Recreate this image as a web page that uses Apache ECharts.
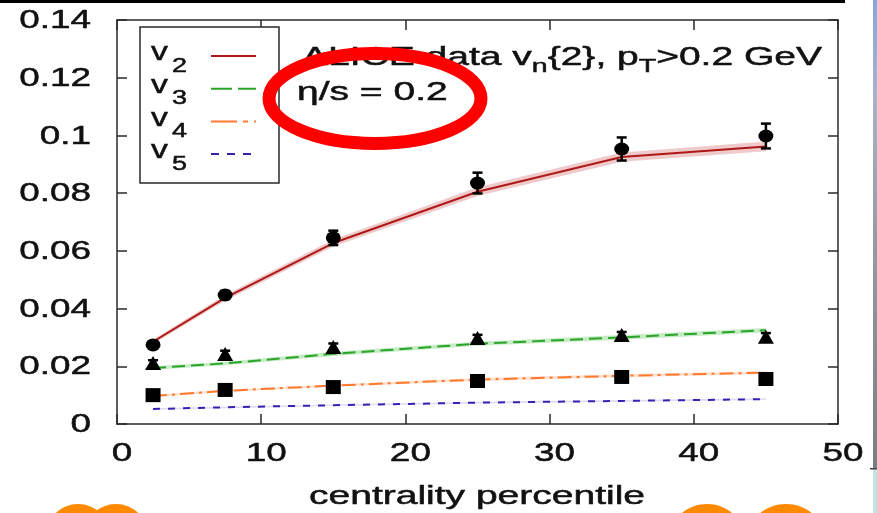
<!DOCTYPE html>
<html>
<head>
<meta charset="utf-8">
<script src="https://cdn.jsdelivr.net/npm/echarts@6/dist/echarts.min.js"></script>
<style>
  html, body { margin: 0; padding: 0; background: #fff; }
  #chart { width: 877px; height: 513px; }
</style>
</head>
<body>
<div id="chart"></div>
<script>
// Centrality bins (percent)
const centrality = [2.5, 7.5, 15, 25, 35, 45];

// Measured two-particle cumulants with errors
const v2Data = [0.0274, 0.0447, 0.0645, 0.0835, 0.0953, 0.0998];
const v2Err  = [0.0010, 0.0014, 0.0025, 0.0036, 0.0040, 0.0043];
const v3Data = [0.0211, 0.0243, 0.0267, 0.0298, 0.0308, 0.0302];
const v3Err  = [0.0010, 0.0011, 0.0012, 0.0011, 0.0011, 0.0013];
const v4Data = [0.0100, 0.0118, 0.0128, 0.0149, 0.0163, 0.0156];
const v4Err  = [0.0004, 0.0004, 0.0004, 0.0005, 0.0005, 0.0005];

// Hydro calculation, eta/s = 0.2 (central value and band half-width)
const hydroV2 = [0.0285, 0.0437, 0.0627, 0.0805, 0.0925, 0.0962];
const bandV2  = [0.0008, 0.0010, 0.0012, 0.0015, 0.0016, 0.0017];
const hydroV3 = [0.0194, 0.0210, 0.0243, 0.0278, 0.0300, 0.0325];
const bandV3  = [0.0006, 0.0006, 0.0007, 0.0007, 0.0008, 0.0008];
const hydroV4 = [0.0097, 0.0115, 0.0133, 0.0154, 0.0167, 0.0178];
const bandV4  = [0.0004, 0.0004, 0.0004, 0.0005, 0.0005, 0.0005];
const hydroV5 = [0.0052, 0.0058, 0.0065, 0.0074, 0.0080, 0.0086];
const bandV5  = [0.0003, 0.0003, 0.0003, 0.0003, 0.0003, 0.0003];

// Axis ticks
const xTicks = [0, 10, 20, 30, 40, 50];
const xTickLabels = ['0', '10', '20', '30', '40', '50'];
const yTicks = [0, 0.02, 0.04, 0.06, 0.08, 0.1, 0.12, 0.14];
const yTickLabels = ['0', '0.02', '0.04', '0.06', '0.08', '0.1', '0.12', '0.14'];

const xTitle = 'centrality percentile';
const legendNames = ['2', '3', '4', '5'];

const FONT = '"Liberation Sans", Arial, sans-serif';
const INK = '#111';
const FRAME = '#2a2a2a';

const colV2 = '#b01818';
const colV3 = '#2ca42c';
const colV4 = '#ff7a2e';
const colV5 = '#3a1fb4';

const dashV3 = [13, 6];
const dashV4 = [14, 5, 3, 5];
const dashV5 = [7, 8];

function pairs(xs, ys) { return xs.map((x, i) => [x, ys[i]]); }

function hydroLine(name, ys, color, dash) {
  return {
    name, type: 'line', data: pairs(centrality, ys), symbol: 'none', z: 3,
    lineStyle: { color, width: 2, type: dash || 'solid' }, silent: true
  };
}

function band(ys, half, fill) {
  return {
    type: 'custom', silent: true, z: 1,
    data: centrality.map((x, i) => [x, ys[i] - half[i], ys[i] + half[i]]),
    encode: { x: 0, y: [1, 2] },
    renderItem(params, api) {
      if (params.dataIndex !== 0) return null;
      const up = centrality.map((x, i) => api.coord([x, ys[i] + half[i]]));
      const dn = centrality.map((x, i) => api.coord([x, ys[i] - half[i]])).reverse();
      return { type: 'polygon', shape: { points: up.concat(dn) }, style: { fill } };
    }
  };
}

function errorBars(ys, errs, cap) {
  return {
    type: 'custom', silent: true, z: 6,
    data: centrality.map((x, i) => [x, ys[i] - errs[i], ys[i] + errs[i]]),
    encode: { x: 0, y: [1, 2] },
    renderItem(params, api) {
      const lo = api.coord([api.value(0), api.value(1)]);
      const hi = api.coord([api.value(0), api.value(2)]);
      const st = { stroke: '#000', lineWidth: 2.5 };
      return {
        type: 'group', children: [
          { type: 'line', shape: { x1: lo[0], y1: lo[1], x2: hi[0], y2: hi[1] }, style: st },
          { type: 'line', shape: { x1: lo[0] - cap, y1: lo[1], x2: lo[0] + cap, y2: lo[1] }, style: st },
          { type: 'line', shape: { x1: hi[0] - cap, y1: hi[1], x2: hi[0] + cap, y2: hi[1] }, style: st }
        ]
      };
    }
  };
}

function points(ys, symbol, size) {
  return {
    type: 'scatter', data: pairs(centrality, ys), symbol, symbolSize: size, z: 7,
    itemStyle: { color: '#000', opacity: 1 }, silent: true
  };
}

const axisCommon = {
  splitLine: { show: false },
  axisLabel: { show: false },
  axisLine: { show: true, onZero: false, lineStyle: { color: FRAME, width: 1.5 } },
  axisTick: { show: true, inside: true, length: 10, lineStyle: { color: FRAME, width: 1.5 } }
};

const option = {
  animation: false,
  backgroundColor: '#fff',
  grid: { left: 117, top: 20, right: 39, bottom: 89 },
  xAxis: [
    Object.assign({ type: 'value', min: 0, max: 50, interval: 10, position: 'bottom' }, axisCommon),
    Object.assign({ type: 'value', min: 0, max: 50, interval: 10, position: 'top' }, axisCommon)
  ],
  yAxis: [
    Object.assign({ type: 'value', min: 0, max: 0.14, interval: 0.02, position: 'left' }, axisCommon),
    Object.assign({ type: 'value', min: 0, max: 0.14, interval: 0.02, position: 'right' }, axisCommon)
  ],
  series: [
    band(hydroV2, bandV2, 'rgba(200,80,80,0.3)'),
    band(hydroV3, bandV3, 'rgba(90,200,90,0.35)'),
    band(hydroV4, bandV4, 'rgba(255,150,90,0.3)'),
    band(hydroV5, bandV5, 'rgba(130,110,220,0.25)'),
    hydroLine('v2', hydroV2, colV2),
    hydroLine('v3', hydroV3, colV3, dashV3),
    hydroLine('v4', hydroV4, colV4, dashV4),
    hydroLine('v5', hydroV5, colV5, dashV5),
    errorBars(v2Data, v2Err, 5),
    errorBars(v3Data, v3Err, 5),
    errorBars(v4Data, v4Err, 5),
    points(v2Data, 'circle', [15, 13]),
    points(v3Data, 'triangle', [16, 14]),
    points(v4Data, 'rect', [15, 14])
  ]
};

const chart = echarts.init(document.getElementById('chart'), null, { renderer: 'canvas' });
chart.setOption(option);

// ---- text helpers (wide glyphs via horizontal scaling) ----
const mctx = document.createElement('canvas').getContext('2d');
function textW(t, size) { mctx.font = size + 'px ' + FONT; return mctx.measureText(t).width; }

function label(t, x, y, size, sx, align, z) {
  return {
    type: 'text', x, y, scaleX: sx, z: z || 20, silent: true,
    style: {
      text: t, fontSize: size, fontFamily: FONT, fill: INK,
      stroke: INK, lineWidth: 0.5,
      align: align || 'left', verticalAlign: 'middle',
      textAlign: align || 'left', textVerticalAlign: 'middle'
    }
  };
}

// runs: [{t, size, dy}] laid out left to right from x, mid-line y
function runs(list, x, y, sx, z) {
  const out = [];
  let cx = x;
  list.forEach(r => {
    out.push(label(r.t, cx, y + (r.dy || 0), r.size, sx, 'left', z));
    cx += textW(r.t, r.size) * sx;
  });
  return out;
}

const gfx = [];

// top bar and right strip
gfx.push({ type: 'rect', shape: { x: 0, y: 0, width: 845, height: 3 }, style: { fill: '#000' }, z: 30, silent: true });
gfx.push({
  type: 'rect', shape: { x: 873, y: 0, width: 4, height: 469 }, z: 30, silent: true,
  style: {
    fill: new echarts.graphic.LinearGradient(0, 0, 0, 1, [
      { offset: 0, color: '#86a6dc' }, { offset: 0.2, color: '#a4b4cc' },
      { offset: 0.5, color: '#9a9aa4' }, { offset: 1, color: '#7c7c84' }
    ])
  }
});
gfx.push({ type: 'rect', shape: { x: 873, y: 469, width: 4, height: 44 }, style: { fill: '#bfe4e4' }, z: 30, silent: true });
gfx.push({ type: 'rect', shape: { x: 870, y: 468, width: 7, height: 1.5 }, style: { fill: '#444' }, z: 30, silent: true });

// tick labels positioned through the axes
const TS = 26, TSX = 1.42;
xTicks.forEach((v, i) => {
  const px = chart.convertToPixel({ xAxisIndex: 0 }, v);
  gfx.push(label(xTickLabels[i], px + 5, 454, TS, TSX, 'center'));
});
yTicks.forEach((v, i) => {
  const py = chart.convertToPixel({ yAxisIndex: 0 }, v);
  gfx.push(label(yTickLabels[i], 91, py + 1, TS, TSX, 'right'));
});

// axis title
gfx.push(label(xTitle, 477, 497, 26, 1.5, 'center'));

// legend box
gfx.push({ type: 'rect', shape: { x: 140, y: 27, width: 139, height: 156 }, style: { fill: '#fff', stroke: FRAME, lineWidth: 1.5 }, z: 15, silent: true });
const legendCols = [colV2, colV3, colV4, colV5];
const legendDash = [null, [21, 6], [26, 6, 5, 6], [8, 8]];
legendNames.forEach((n, i) => {
  const ly = 56 + 32.7 * i;
  gfx.push(label('v', 151, ly - 3, 26, 1.3, 'left', 20));
  gfx.push(label(n, 172, ly + 10, 20, 1.35, 'left', 20));
  gfx.push({
    type: 'line', z: 20, silent: true,
    shape: { x1: 211, y1: ly, x2: 256, y2: ly },
    style: { stroke: legendCols[i], lineWidth: 2, lineDash: legendDash[i] || null }
  });
});

// annotation text
const AS = 1.5;
runs([
  { t: 'ALICE data v', size: 26 },
  { t: 'n', size: 19, dy: 9 },
  { t: '{2}, p', size: 26 },
  { t: 'T', size: 19, dy: 9 },
  { t: '>0.2 GeV', size: 26 }
], 302, 58, AS, 20).forEach(e => gfx.push(e));
gfx.push(label('\u03B7/s = 0.2', 297, 93, 26, AS, 'left', 20));

// red ellipse marking
gfx.push({
  type: 'ellipse', z: 40, silent: true,
  shape: { cx: 375, cy: 98.5, rx: 106, ry: 45 },
  style: { fill: 'none', stroke: '#ff0000', lineWidth: 13 }
});

// orange shapes along the bottom edge
[[78, 536, 32, 32], [116, 536, 32, 32], [707, 538, 37, 34], [786, 538, 38, 34]].forEach(e => {
  gfx.push({ type: 'ellipse', z: 40, silent: true, shape: { cx: e[0], cy: e[1], rx: e[2], ry: e[3] }, style: { fill: '#ff8a00' } });
});

chart.setOption({ graphic: { elements: gfx } });
</script>
</body>
</html>
